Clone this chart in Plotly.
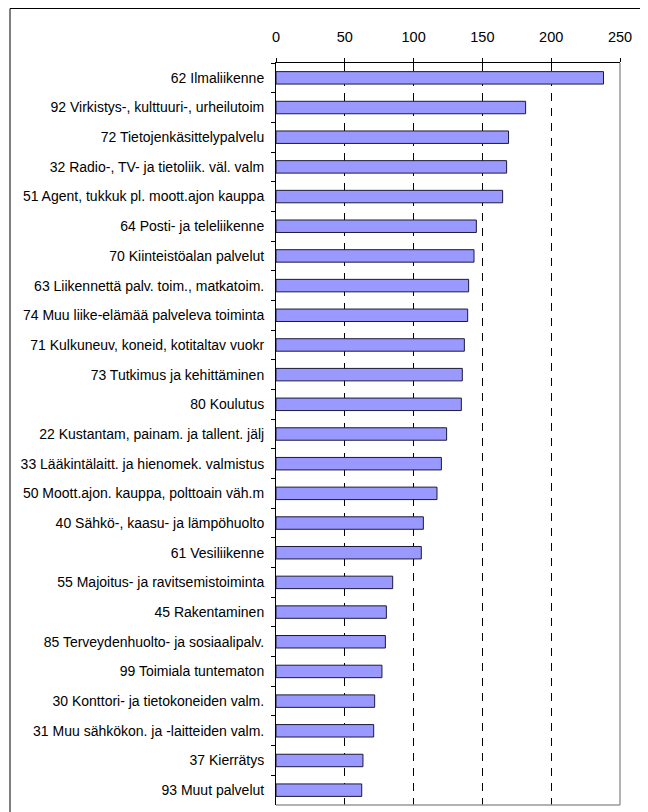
import plotly.graph_objects as go

categories = [
    "62 Ilmaliikenne",
    "92 Virkistys-, kulttuuri-, urheilutoim",
    "72 Tietojenkäsittelypalvelu",
    "32 Radio-, TV- ja tietoliik. väl. valm",
    "51 Agent, tukkuk pl. moott.ajon kauppa",
    "64 Posti- ja teleliikenne",
    "70 Kiinteistöalan palvelut",
    "63 Liikennettä palv. toim., matkatoim.",
    "74 Muu liike-elämää palveleva toiminta",
    "71 Kulkuneuv, koneid, kotitaltav vuokr",
    "73 Tutkimus ja kehittäminen",
    "80 Koulutus",
    "22 Kustantam, painam. ja tallent. jälj",
    "33 Lääkintälaitt. ja hienomek. valmistus",
    "50 Moott.ajon. kauppa, polttoain väh.m",
    "40 Sähkö-, kaasu- ja lämpöhuolto",
    "61 Vesiliikenne",
    "55 Majoitus- ja ravitsemistoiminta",
    "45 Rakentaminen",
    "85 Terveydenhuolto- ja sosiaalipalv.",
    "99 Toimiala tuntematon",
    "30 Konttori- ja tietokoneiden valm.",
    "31 Muu sähkökon. ja -laitteiden valm.",
    "37 Kierrätys",
    "93 Muut palvelut",
]
values = [238, 181.4, 169, 167.6, 164.7, 145.6, 143.9, 140, 139.3, 136.9, 135.4,
          134.7, 124, 120.2, 117, 107.1, 105.6, 84.8, 80.2, 79.5, 77, 71.7, 71,
          63.2, 62.3]
x_ticks = [0, 50, 100, 150, 200, 250]

fig = go.Figure(go.Bar(
    x=values, y=categories, orientation="h", width=0.42,
    marker=dict(color="#9999FF", line=dict(color="#1a1a3a", width=1)),
))

# page body has an 8px margin; work in figure coordinates (reference - 8)
OFF = 8
W, H = 648 - OFF, 812 - OFF
L, R, T, B = 276 - OFF, 620 - OFF, 63 - OFF, 805 - OFF
fig.update_layout(
    width=W, height=H,
    margin=dict(l=L, r=W - R, t=T, b=H - B, pad=0),
    paper_bgcolor="white", plot_bgcolor="white",
    font=dict(family="Liberation Sans, Arial, sans-serif", size=14, color="black"),
    showlegend=False,
)
fig.update_xaxes(
    side="top", range=[0, 250], tickvals=x_ticks, ticktext=[str(v) for v in x_ticks],
    showgrid=True, gridcolor="black", griddash="8px,7px", gridwidth=1,
    zeroline=False, showline=True, linecolor="black", linewidth=1,
    ticks="outside", ticklen=4, tickcolor="black", ticklabelstandoff=10,
    tickfont=dict(size=14.5),
)
fig.update_yaxes(
    type="category", autorange="reversed", showgrid=False, zeroline=False,
    showline=True, linecolor="black", linewidth=1,
    ticks="outside", ticklen=4, tickcolor="black", tickson="boundaries",
    ticklabelstandoff=8, tickfont=dict(size=14),
)
# gray right & bottom plot frame
fig.add_shape(type="line", xref="paper", yref="paper", x0=1, x1=1, y0=0, y1=1,
              line=dict(color="#999999", width=1.5), layer="above")
fig.add_shape(type="line", xref="paper", yref="paper", x0=0, x1=1, y0=0, y1=0,
              line=dict(color="#999999", width=1.5), layer="above")
# outer chart frame
pw, ph = R - L, B - T
fig.add_shape(type="rect", xref="paper", yref="paper",
              x0=(10 - OFF - L) / pw, x1=(645 - OFF - L) / pw,
              y0=(B - 820) / ph, y1=(B - 0.5) / ph,
              line=dict(color="black", width=1), fillcolor="rgba(0,0,0,0)", layer="above")

fig.write_html("out.html")
